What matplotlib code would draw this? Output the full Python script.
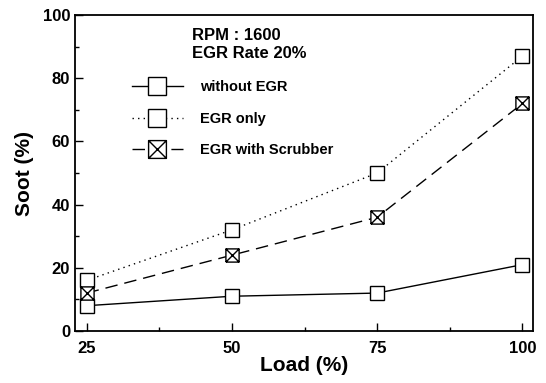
import matplotlib
matplotlib.use("Agg")
import matplotlib.pyplot as plt
from matplotlib.path import Path
from matplotlib.ticker import MultipleLocator

# Данные
load = [25, 50, 75, 100]
without_egr = [8, 11, 12, 21]
egr_only = [16, 32, 50, 87]
egr_scrubber = [12, 24, 36, 72]

plt.rcParams['font.family'] = ['Liberation Sans', 'DejaVu Sans']
plt.rcParams['font.weight'] = 'bold'

# Маркер: квадрат с крестом
box_x = Path([(-1, -1), (1, -1), (1, 1), (-1, 1), (-1, -1),
              (-1, -1), (1, 1), (-1, 1), (1, -1)],
             [Path.MOVETO, Path.LINETO, Path.LINETO, Path.LINETO, Path.LINETO,
              Path.MOVETO, Path.LINETO, Path.MOVETO, Path.LINETO])

fig = plt.figure(figsize=(5.46, 3.83), dpi=100)
ax = fig.add_axes([0.1374, 0.1358, 0.8386, 0.825])

ms = 9.5
ax.plot(load, without_egr, color='black', lw=1.0, marker='s', ms=ms,
        mfc='white', mec='black', mew=1.0, label='without EGR')
ax.plot(load, egr_only, color='black', lw=1.0, ls=(0, (1, 3)), marker='s', ms=ms,
        mfc='white', mec='black', mew=1.0, label='EGR only')
ax.plot(load, egr_scrubber, color='black', lw=1.0, ls=(0, (9, 5)), marker=box_x, ms=ms,
        mfc='white', mec='black', mew=1.0, label='EGR with Scrubber')

ax.set_xlim(23, 101.8)
ax.set_ylim(0, 100)
ax.xaxis.set_major_locator(MultipleLocator(25))
ax.xaxis.set_minor_locator(MultipleLocator(12.5))
ax.yaxis.set_major_locator(MultipleLocator(20))
ax.yaxis.set_minor_locator(MultipleLocator(10))
ax.tick_params(which='both', direction='in', labelsize=12, width=1)
ax.tick_params(which='major', length=6)
ax.tick_params(which='minor', length=3)
ax.tick_params(axis='x', pad=7)
for s in ax.spines.values():
    s.set_linewidth(1.3)

ax.set_xlabel('Load (%)', fontsize=15, fontweight='bold', labelpad=0)
ax.set_ylabel('Soot (%)', fontsize=15, fontweight='bold', labelpad=6)

ax.text(0.255, 0.958, 'RPM : 1600\nEGR Rate 20%', transform=ax.transAxes,
        fontsize=12, fontweight='bold', va='top', linespacing=1.2)
ax.legend(loc='upper left', bbox_to_anchor=(0.095, 0.835), frameon=False,
          fontsize=10.5, handlelength=3.5, numpoints=1, labelspacing=1.2,
          handletextpad=1.2, markerscale=1.35)

fig.savefig('out.png', dpi=100)
